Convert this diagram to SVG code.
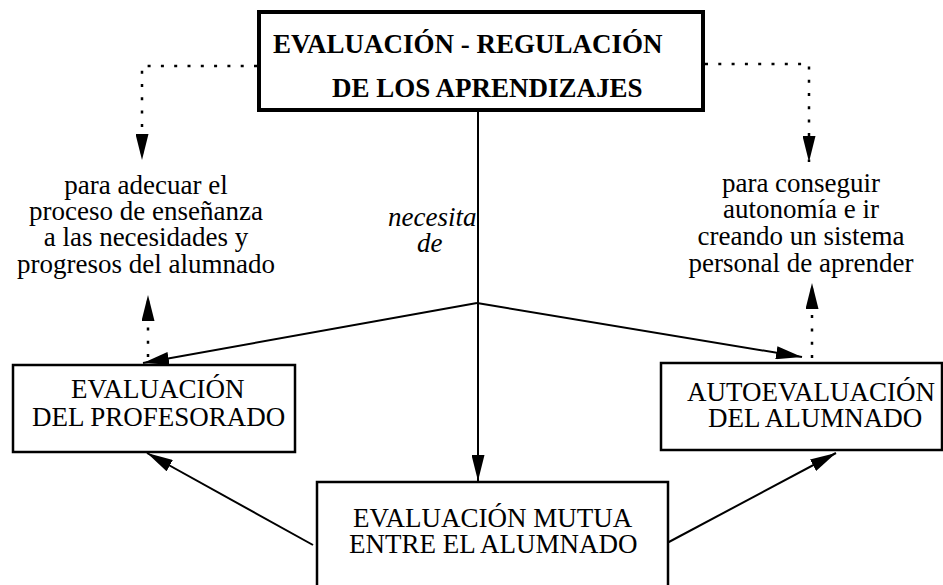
<svg xmlns="http://www.w3.org/2000/svg" width="943" height="585" viewBox="0 0 943 585" font-family="'Liberation Serif', 'DejaVu Serif', serif" font-size="27">
<style>
text { font-family: 'Liberation Serif', 'Times New Roman', 'DejaVu Serif', serif; font-size: 27px; fill: #000; }
.b { font-weight: bold; }
.i { font-style: italic; }
.box { fill: #fff; stroke: #000; stroke-width: 2.5; }
.main { fill: #fff; stroke: #000; stroke-width: 4; }
.con { fill: none; stroke: #000; stroke-width: 2; marker-end: url(#ah); }
.dot { fill: none; stroke: #000; stroke-width: 2.5; stroke-dasharray: 3 10.3; marker-end: url(#ah); }
</style>
<defs>
<marker id="ah" markerUnits="userSpaceOnUse" markerWidth="26" markerHeight="13" refX="26" refY="6.5" orient="auto" viewBox="0 0 26 13">
<path d="M0,0 L26,6.5 L0,13 z" fill="#000"/>
</marker>
</defs>
<rect width="943" height="585" fill="#fff"/>
<g id="connectors">
<path class="dot" d="M257,66 H142 V160"/>
<path class="dot" d="M705,64 H809 V162"/>
<path class="dot" d="M148,357 V295"/>
<path class="dot" d="M812,358 V283"/>
<path class="con" d="M478,110 V481"/>
<path class="con" d="M477,303 L143,363"/>
<path class="con" d="M477,303 L802,357"/>
<path class="con" d="M313,545 L147,453"/>
<path class="con" d="M667,543 L836,453"/>
</g>
<g id="n-top">
<rect class="main" x="259" y="12" width="444" height="98"/>
<text class="b" x="273" y="53">EVALUACIÓN - REGULACIÓN</text>
<text class="b" x="332" y="97">DE LOS APRENDIZAJES</text>
</g>
<g id="l-left">
<text x="146" y="194" text-anchor="middle">para adecuar el</text>
<text x="146" y="220" text-anchor="middle">proceso de enseñanza</text>
<text x="146" y="246" text-anchor="middle">a las necesidades y</text>
<text x="146" y="273" text-anchor="middle">progresos del alumnado</text>
</g>
<g id="l-right">
<text x="801" y="192" text-anchor="middle">para conseguir</text>
<text x="801" y="218" text-anchor="middle">autonomía e ir</text>
<text x="801" y="245" text-anchor="middle">creando un sistema</text>
<text x="801" y="272" text-anchor="middle">personal de aprender</text>
</g>
<g id="l-mid">
<text class="i" x="388" y="226">necesita</text>
<text class="i" x="417" y="252">de</text>
</g>
<g id="n-prof">
<rect class="box" x="13" y="365" width="282" height="87"/>
<text x="71" y="398">EVALUACIÓN</text>
<text x="32" y="426">DEL PROFESORADO</text>
</g>
<g id="n-auto">
<rect class="box" x="661" y="363" width="281" height="87"/>
<text x="687" y="401">AUTOEVALUACIÓN</text>
<text x="708" y="427">DEL ALUMNADO</text>
</g>
<g id="n-mutua">
<rect class="box" x="317" y="482" width="351" height="120"/>
<text x="353" y="527">EVALUACIÓN MUTUA</text>
<text x="349" y="553">ENTRE EL ALUMNADO</text>
</g>
</svg>
